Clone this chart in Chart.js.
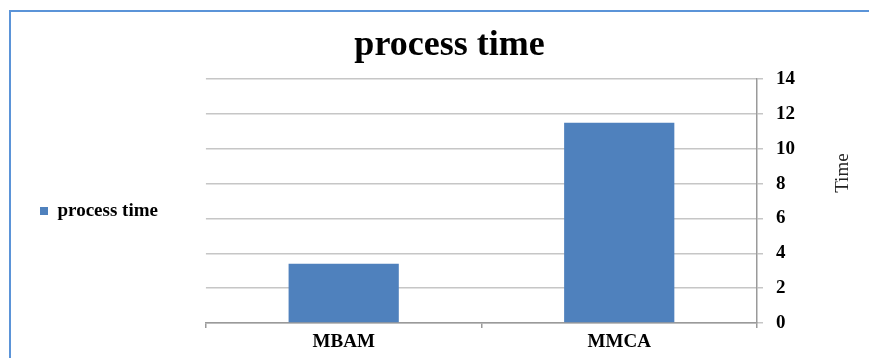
<!DOCTYPE html>
<html>
<head>
<meta charset="utf-8">
<title>process time</title>
<script src="https://cdn.jsdelivr.net/npm/chart.js@4.4.0/dist/chart.umd.min.js"></script>
<style>
  html, body { margin: 0; padding: 0; background: #fff; overflow: hidden; }
  #wrap { position: relative; width: 869px; height: 358px; }
  #frame {
    position: absolute; left: 9px; top: 10px; right: 0; bottom: 0;
    border-top: 2px solid #5b94d8; border-left: 2px solid #5b94d8;
    pointer-events: none;
  }
</style>
</head>
<body>
<div id="wrap">
  <canvas id="chart"></canvas>
  <div id="frame"></div>
</div>
<script>
// data
const categories = ['MBAM', 'MMCA'];
const seriesName = 'process time';
const processTime = [3.4, 11.5];
const yTicks = [0, 2, 4, 6, 8, 10, 12, 14];
const yTitle = 'Time';

const serif = "'Liberation Serif', 'Times New Roman', serif";
Chart.defaults.font.family = serif;
Chart.defaults.color = '#000';

// axis title on the right, reading bottom to top
const yTitlePlugin = {
  id: 'yTitle',
  afterDraw(chart) {
    const { ctx, chartArea } = chart;
    ctx.save();
    ctx.translate(chartArea.right + 86, (chartArea.top + chartArea.bottom) / 2 - 28);
    ctx.rotate(-Math.PI / 2);
    ctx.font = '19px ' + serif;
    ctx.fillStyle = '#222';
    ctx.textAlign = 'center';
    ctx.textBaseline = 'middle';
    ctx.fillText(yTitle, 0, 0);
    ctx.restore();
  }
};

const ctx = document.getElementById('chart').getContext('2d');
new Chart(ctx, {
  type: 'bar',
  data: {
    labels: categories,
    datasets: [{
      label: seriesName,
      data: processTime,
      backgroundColor: '#4f81bd',
      barPercentage: 0.4,
      categoryPercentage: 1.0,
      yAxisID: 'y'
    }]
  },
  options: {
    responsive: true,
    maintainAspectRatio: false,
    animation: false,
    layout: { padding: { top: 14, left: 30, right: 0, bottom: 1 } },
    scales: {
      // empty spacer between the legend and the plot
      yL: {
        type: 'linear',
        position: 'left',
        display: true,
        grid: { display: false },
        border: { display: false },
        ticks: { display: false },
        afterFit: s => { s.width = 38; }
      },
      x: {
        grid: {
          drawOnChartArea: false,
          drawTicks: true,
          tickLength: 5,
          color: '#9a9a9a',
          lineWidth: 1.5
        },
        border: { display: true, color: '#9a9a9a', width: 1.5 },
        ticks: {
          padding: 5,
          font: { size: 19, weight: 'bold', lineHeight: 1 },
          color: '#000'
        }
      },
      y: {
        position: 'right',
        min: yTicks[0],
        max: yTicks[yTicks.length - 1],
        ticks: {
          stepSize: yTicks[1] - yTicks[0],
          padding: 13,
          font: { size: 19, weight: 'bold' },
          color: '#000'
        },
        grid: { color: '#c6c6c6', lineWidth: 1.5, tickLength: 6 },
        border: { display: true, color: '#9a9a9a', width: 1.5 },
        afterFit: s => { s.width = 112; }
      }
    },
    plugins: {
      title: {
        display: true,
        text: 'process time',
        font: { size: 36, weight: 'bold' },
        color: '#000',
        padding: { top: 10, bottom: 12 }
      },
      legend: {
        position: 'left',
        fullSize: false,
        title: { display: true, text: '', font: { size: 10 }, padding: { top: 8, bottom: 0 } },
        labels: {
          boxWidth: 8,
          boxHeight: 8,
          padding: 10,
          color: '#000',
          font: { size: 19, weight: 'bold' }
        }
      },
      tooltip: { enabled: false }
    }
  },
  plugins: [yTitlePlugin]
});
</script>
</body>
</html>
